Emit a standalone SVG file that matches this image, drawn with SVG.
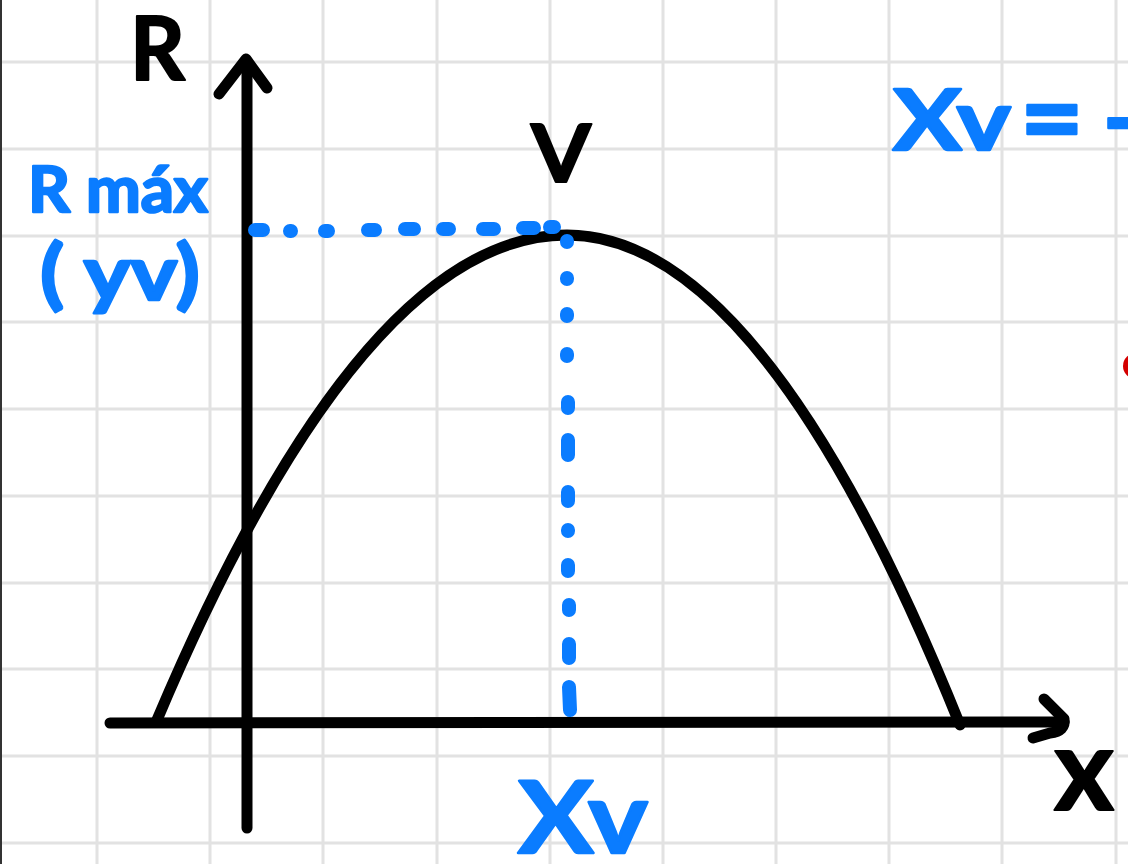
<svg xmlns="http://www.w3.org/2000/svg" width="1128" height="864" viewBox="0 0 1128 864">
<style>
.grid{stroke:#e2e2e2;stroke-width:3;fill:none}
.ink{stroke:#000;stroke-width:11;fill:none;stroke-linecap:round;stroke-linejoin:round}
.dash{stroke:#0a7cff;stroke-width:14;fill:none;stroke-linecap:round}
.tk{font-family:Lato,"Liberation Sans",sans-serif;font-weight:700;fill:#000;stroke:#000;stroke-width:2;stroke-linejoin:round}
.tb{font-family:Lato,"Liberation Sans",sans-serif;font-weight:700;fill:#0a7cff;stroke:#0a7cff;stroke-width:2.5;stroke-linejoin:round}
</style>
<rect x="0" y="0" width="1128" height="864" fill="#fff"/>
<g id="grid" class="grid">
<path d="M97 0V864M210 0V864M323 0V864M437 0V864M550 0V864M663 0V864M776 0V864M889 0V864M1002 0V864M1116 0V864"/>
<path d="M0 62H1128M0 149H1128M0 236H1128M0 322H1128M0 409H1128M0 496H1128M0 583H1128M0 669H1128M0 756H1128M0 843H1128"/>
</g>
<rect x="0" y="0" width="2" height="864" fill="#333"/>
<g id="axes">
<path class="ink" d="M247 828L247 62"/>
<path class="ink" d="M219 94L246 59L267 88"/>
<path class="ink" d="M110 723L1064 722"/>
<path class="ink" d="M1044 699L1064 719Q1066 731 1050 733L1033 738"/>
</g>
<g id="curve">
<path class="ink" d="M157 720Q362 235 567 235Q763 235 960 725"/>
</g>
<g id="guides" class="dash">
<path d="M255 230L263 230M290 231L291 231M325 231L328 231M368 230L375 230M405 229L414 229M443 229L449 229M483 229L494 229M523 228L534 228M550 227L554 227"/>
<path d="M567 241L567 242M567 278L567 279M567 314L567 316M567 354L567 356M568 402L568 408M568 440L568 455M568 492L568 501M568 530L568 531M568 565L568 571M569 605L569 610M569 644L569 658M569 687L570 710"/>
</g>
<g id="label-R"><text class="tk" x="130" y="80" font-size="88" textLength="55" lengthAdjust="spacingAndGlyphs">R</text></g>
<g id="label-V"><text class="tk" x="531" y="182" font-size="80" textLength="60" lengthAdjust="spacingAndGlyphs">V</text></g>
<g id="label-x"><text class="tk" x="1054" y="810" font-size="115" textLength="60" lengthAdjust="spacingAndGlyphs">x</text></g>
<g id="label-rmax"><text class="tb" x="28" y="212" font-size="64" textLength="180" lengthAdjust="spacingAndGlyphs">R máx</text></g>
<g id="label-yv"><text class="tb" x="40" y="300" font-size="76" textLength="160" lengthAdjust="spacingAndGlyphs">( yv)</text></g>
<g id="label-xv"><text class="tb" x="518" y="853" font-size="100" textLength="130" lengthAdjust="spacingAndGlyphs">Xv</text></g>
<g id="formula"><text class="tb" y="150" font-size="84"><tspan x="893" textLength="118" lengthAdjust="spacingAndGlyphs">Xv</tspan><tspan x="1020" y="156" font-size="110">=</tspan><tspan x="1103" y="152" font-size="96">-</tspan></text></g>
<circle id="dot" cx="1136" cy="366" r="13" fill="#d40000"/>
</svg>
